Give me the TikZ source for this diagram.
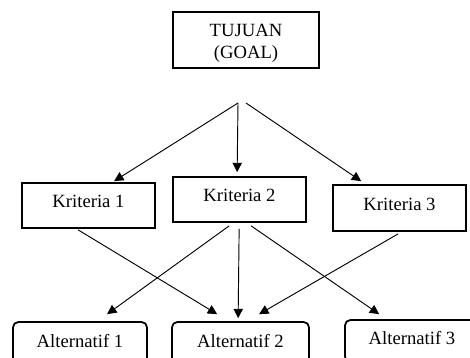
\documentclass[tikz,border=0pt]{standalone}
\usepackage{fontspec}
\setmainfont{Liberation Serif}
\usetikzlibrary{arrows.meta,calc}
\begin{document}
\begin{tikzpicture}[x=0.75pt,y=-0.75pt,
  box/.style={draw,line width=1.3pt,inner sep=0pt,font=\fontsize{14}{16}\selectfont,text depth=6pt},
  altbox/.style={draw,line width=1.3pt,rounded corners=4pt,inner sep=0pt,font=\fontsize{14}{16}\selectfont,text depth=4pt},
  arr/.style={line width=0.7pt,-{Triangle[length=7pt,width=7pt]}},
  ln/.style={line width=0.7pt}]
\useasboundingbox (0,0) rectangle (470,357);
\clip (0,0) rectangle (470,357);
\node[draw,line width=1.3pt,inner sep=0pt,minimum width=146*0.75pt,minimum height=56*0.75pt] (goal) at (246,40) {};
\node[inner sep=0pt,align=center,font=\fontsize{14}{16}\selectfont] (goaltext) at (246,43.5) {TUJUAN\\[0.8pt](GOAL)};
\node[box,minimum width=133*0.75pt,minimum height=45*0.75pt] (k1) at (88.5,205.5) {Kriteria 1};
\node[box,minimum width=133*0.75pt,minimum height=45*0.75pt] (k2) at (239.5,199.5) {Kriteria 2};
\node[box,minimum width=133*0.75pt,minimum height=46*0.75pt] (k3) at (399.5,208) {Kriteria 3};
\node[altbox,minimum width=134*0.75pt,minimum height=44*0.75pt] (a1) at (80,344) {Alternatif 1};
\node[altbox,minimum width=137*0.75pt,minimum height=44*0.75pt] (a2) at (240.5,344) {Alternatif 2};
\node[altbox,minimum width=134*0.75pt,minimum height=42*0.75pt] (a3) at (412,341) {Alternatif 3};
\coordinate (hubL) at (238,103);
\coordinate (hubR) at (246,103);
% upper arrows
\draw[arr] (hubL) -- ($(k1.north west)+(93,-1)$);
\draw[arr] (hubL) -- ($(k2.north west)+(65,-4)$);
\draw[arr] (hubR) -- ($(k3.north west)+(29,-3)$);
% lower arrows
\draw[arr] ($(k1.south west)+(57,1)$) -- ($(a2.north west)+(46,-7)$);
\draw[arr] ($(k2.south west)+(57,3)$) -- ($(a1.north west)+(95,-7)$);
\draw[arr] ($(k2.south west)+(67,6)$) -- ($(a2.north west)+(67,-3)$);
\draw[arr] ($(k2.south west)+(79,3)$) -- ($(a3.north west)+(35,-5)$);
\draw[arr] ($(k3.south west)+(66,2)$) -- ($(a2.north west)+(88,-7)$);
\end{tikzpicture}
\end{document}
